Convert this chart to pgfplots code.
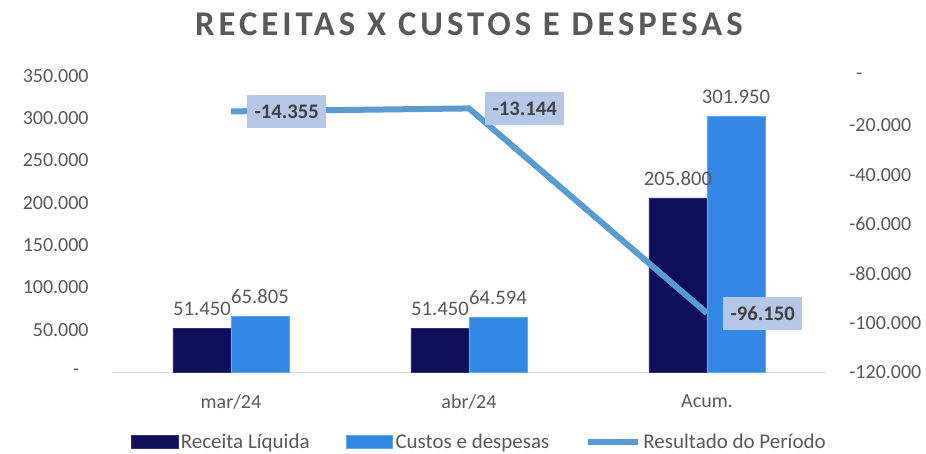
\documentclass[border=0pt]{standalone}
\usepackage{fontspec}
\setmainfont{Carlito}
\usepackage{pgfplots}
\pgfplotsset{compat=1.18}

\definecolor{navy}{RGB}{14,14,90}
\definecolor{navyedge}{RGB}{48,48,128}
\definecolor{blu}{RGB}{50,136,228}
\definecolor{bluedge}{RGB}{96,168,240}
\definecolor{linecol}{RGB}{91,155,213}
\definecolor{boxcol}{RGB}{180,199,231}
\definecolor{txt}{RGB}{89,89,89}
\definecolor{lbl}{RGB}{64,64,64}

\pgfplotsset{
  base/.style={
    width=535.5pt, height=222pt, scale only axis,
    at={(0,0)}, anchor=south west,
    xmin=-0.5, xmax=2.5,
    axis line style={draw=none},
    tick style={draw=none},
    ticklabel style={font=\fontsize{15}{18}\selectfont, text=txt},
    /pgf/number format/assume math mode=true,
    scaled y ticks=false,
  },
  barleg/.style={legend image code/.code={\draw[##1] (0pt,-5pt) rectangle (35pt,5pt);}},
  lineleg/.style={legend image code/.code={\draw[##1] (0pt,0pt) -- (37pt,0pt);}},
}

\begin{document}
\begin{tikzpicture}
\useasboundingbox (-84pt,-61.5pt) rectangle (610.5pt,279pt);

% eixo esquerdo: barras
\begin{axis}[base,
  ybar=0pt, bar width=43.5pt,
  ymin=0, ymax=350000,
  ytick={0,50000,100000,150000,200000,250000,300000,350000},
  yticklabels={-\hspace*{7pt},50.000,100.000,150.000,200.000,250.000,300.000,350.000},
  yticklabel style={xshift=-14pt},
  xtick={0,1,2}, xticklabels={mar/24,abr/24,Acum.},
  xticklabel style={yshift=-9.5pt},
  nodes near coords={\pgfmathprintnumber[fixed,precision=0,1000 sep={.}]{\pgfplotspointmeta}},
  nodes near coords style={font=\fontsize{15.5}{18}\selectfont, text=txt, yshift=6pt},
  title={RECEITAS X CUSTOS E DESPESAS},
  title style={font=\fontsize{26}{30}\selectfont\bfseries\addfontfeature{LetterSpace=11.5}, text=txt, at={(0.5,1)}, anchor=base, yshift=24.75pt},
]
\draw[black!15] (rel axis cs:0,0) -- (rel axis cs:1,0);
\addplot[fill=navy, draw=navyedge] coordinates {(0,51450) (1,51450) (2,205800)};
\addplot[fill=blu, draw=bluedge] coordinates {(0,65805) (1,64594) (2,301950)};
\end{axis}

% eixo direito: resultado
\begin{axis}[base,
  ymin=-120000, ymax=0,
  ytick={-120000,-100000,-80000,-60000,-40000,-20000,0},
  yticklabels={-120.000,-100.000,-80.000,-60.000,-40.000,-20.000,\hspace*{5pt}-},
  yticklabel pos=right,
  yticklabel style={anchor=west, xshift=14pt},
  xtick=\empty,
  legend columns=3,
  legend style={at={(0.5,0)}, anchor=center, yshift=-52.5pt, xshift=8pt, draw=none, fill=none,
    font=\fontsize{15.75}{18}\selectfont, text=txt,
    /tikz/every even column/.append style={column sep=25pt}},
]
\addlegendimage{barleg, fill=navy, draw=navyedge}
\addlegendentry{Receita Líquida}
\addlegendimage{barleg, fill=blu, draw=bluedge}
\addlegendentry{Custos e despesas}
\addplot[lineleg, linecol, line width=4.5pt,
  nodes near coords={\pgfmathprintnumber[fixed,precision=0,1000 sep={.}]{\pgfplotspointmeta}},
  nodes near coords style={anchor=west, xshift=10pt, fill=boxcol, text=lbl,
    font=\fontsize{15.5}{18}\selectfont\bfseries, minimum height=25pt, inner xsep=5.5pt},
] coordinates {(0,-14355) (1,-13144) (2,-96150)};
\addlegendentry{Resultado do Período}
\end{axis}
\end{tikzpicture}
\end{document}
